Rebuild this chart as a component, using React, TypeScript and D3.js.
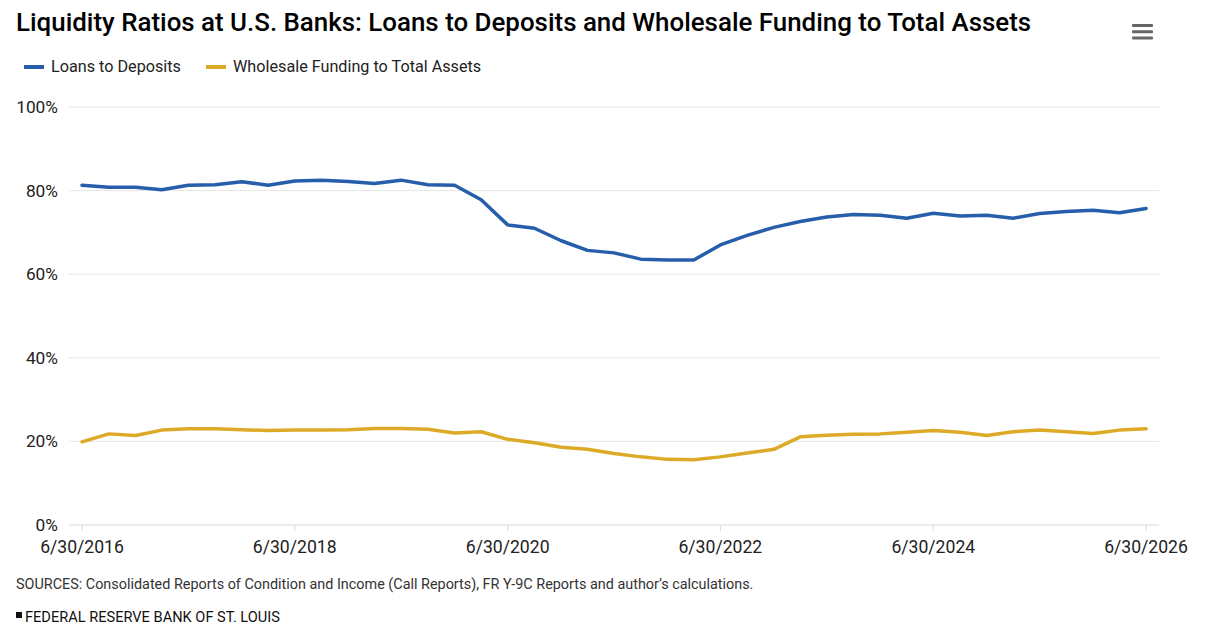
import React from "react";
import * as d3 from "d3";

const title = "Liquidity Ratios at U.S. Banks: Loans to Deposits and Wholesale Funding to Total Assets";
const seriesNames = ["Loans to Deposits", "Wholesale Funding to Total Assets"];
const seriesColors = ["#275eab", "#ddaa27"];

// Quarterly observations, 6/30/2016 .. 6/30/2026
const startYear = 2016;
const loansToDeposits = [
  81.3, 80.8, 80.8, 80.2, 81.3, 81.4, 82.1, 81.3, 82.3, 82.5, 82.2, 81.7, 82.5, 81.4,
  81.3, 77.8, 71.8, 71.0, 68.0, 65.7, 65.1, 63.6, 63.4, 63.4, 67.0, 69.3, 71.2, 72.6,
  73.7, 74.3, 74.1, 73.4, 74.6, 73.9, 74.1, 73.4, 74.5, 75.0, 75.3, 74.7, 75.7,
];
const wholesaleFunding = [
  19.9, 21.8, 21.4, 22.7, 23.0, 23.0, 22.8, 22.6, 22.7, 22.7, 22.8, 23.1, 23.1, 22.9,
  22.0, 22.3, 20.5, 19.7, 18.6, 18.1, 17.1, 16.3, 15.7, 15.6, 16.3, 17.2, 18.1, 21.1,
  21.5, 21.7, 21.8, 22.2, 22.6, 22.2, 21.4, 22.3, 22.7, 22.3, 21.9, 22.7, 23.0,
];
const yTicks = [0, 20, 40, 60, 80, 100];
const xTickYears = [2016, 2018, 2020, 2022, 2024, 2026];
const sourcesText =
  "SOURCES: Consolidated Reports of Condition and Income (Call Reports), FR Y-9C Reports and author\u2019s calculations.";
const creditText = "FEDERAL RESERVE BANK OF ST. LOUIS";

const W = 1207;
const H = 633;
const FONT = "Roboto, 'Noto Sans', sans-serif";

// quarter-end dates starting at 6/30/startYear
const quarterEnd = (i: number) => {
  const m = 5 + i * 3; // June index 5
  const y = startYear + Math.floor(m / 12);
  const mm = m % 12;
  return new Date(y, mm + 1, 0);
};
const dates = loansToDeposits.map((_, i) => quarterEnd(i));

export default function App() {
  const plotLeft = 69;
  const plotRight = 1159;
  const x = d3
    .scaleTime()
    .domain([new Date(2016, 5, 30), new Date(2026, 5, 30)])
    .range([82, 1146]);
  const y = d3.scaleLinear().domain([0, 100]).range([525, 107]);

  const line = d3
    .line<number>()
    .x((_, i) => x(dates[i]))
    .y((d) => y(d))
    .curve(d3.curveLinear);

  const series = [loansToDeposits, wholesaleFunding];
  const fmt = d3.timeFormat("%-m/%-d/%Y");

  return (
    <svg
      width={W}
      height={H}
      style={{ position: "absolute", left: 0, top: 0, background: "#fff" }}
      fontFamily={FONT}
    >
      <rect x={0} y={0} width={W} height={H} fill="#fff" />
      <text x={16} y={31} fontSize={25.9} fontWeight={500} fill="#000">
        {title}
      </text>
      {/* menu icon */}
      <g fill="#666">
        {[0, 1, 2].map((k) => (
          <rect key={k} x={1132} y={24 + k * 6.3} width={21} height={3} rx={1} />
        ))}
      </g>
      {/* legend */}
      {seriesNames.map((name, i) => {
        const lx = i === 0 ? 24 : 206;
        return (
          <g key={name}>
            <line x1={lx} x2={lx + 20} y1={67} y2={67} stroke={seriesColors[i]} strokeWidth={4} />
            <text x={lx + 27} y={72} fontSize={16.2} fill="#222">
              {name}
            </text>
          </g>
        );
      })}
      {/* grid */}
      {yTicks.map((t) => (
        <g key={t}>
          {t > 0 && (
            <line x1={plotLeft} x2={plotRight} y1={y(t)} y2={y(t)} stroke="#e6e6e6" strokeWidth={1} />
          )}
          <text x={58} y={y(t) + 6} fontSize={17.3} textAnchor="end" fill="#222">
            {t}%
          </text>
        </g>
      ))}
      {/* x axis */}
      <line x1={plotLeft} x2={plotRight} y1={525} y2={525} stroke="#d9d9d9" strokeWidth={1} />
      {xTickYears.map((yr) => {
        const d = new Date(yr, 5, 30);
        return (
          <g key={yr}>
            <line x1={x(d)} x2={x(d)} y1={525} y2={531} stroke="#d9d9d9" />
            <text x={x(d)} y={553} fontSize={17.6} textAnchor="middle" fill="#222">
              {fmt(d)}
            </text>
          </g>
        );
      })}
      {/* lines */}
      {series.map((s, i) => (
        <path
          key={i}
          d={line(s) || ""}
          fill="none"
          stroke={seriesColors[i]}
          strokeWidth={3.5}
          strokeLinejoin="round"
          strokeLinecap="round"
        />
      ))}
      {/* footer */}
      <text x={16} y={589} fontSize={14.4} fill="#333">
        {sourcesText}
      </text>
      <rect x={16} y={612} width={6} height={6} fill="#111" />
      <text x={25} y={622} fontSize={14.6} fill="#111">
        {creditText}
      </text>
    </svg>
  );
}
